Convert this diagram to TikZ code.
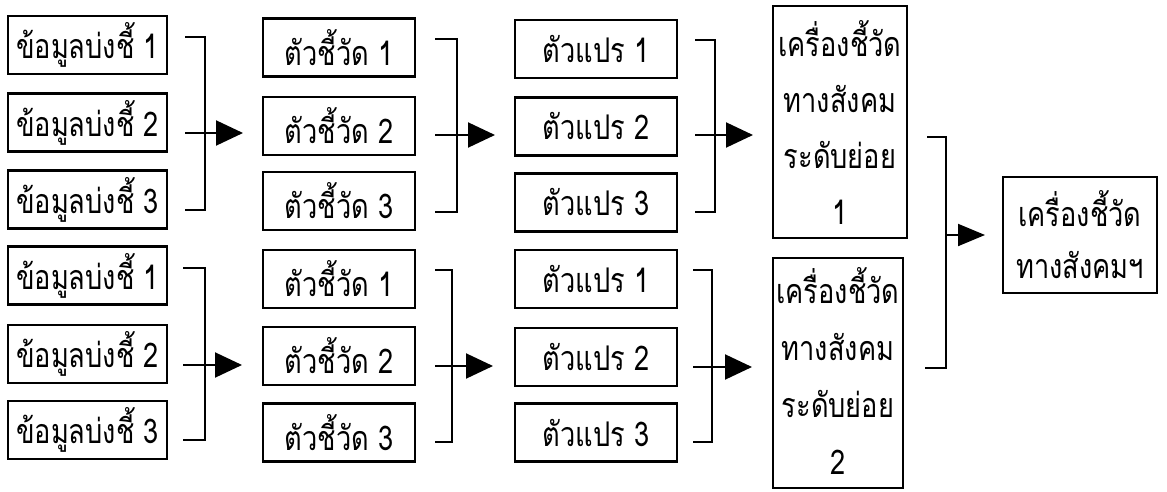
\documentclass[tikz,border=0pt]{standalone}
\usepackage{fontspec}
\usetikzlibrary{arrows.meta}
\newfontfamily\thai[Script=Thai,FakeStretch=0.8]{Loma}
\begin{document}
\begin{tikzpicture}[x=1pt,y=-1pt,
  box/.style={draw,line width=2.4pt,inner sep=0pt,anchor=center,
    font=\thai\fontsize{34}{34}\selectfont},
  tall/.style={box,align=center,font=\thai\fontsize{34}{56}\selectfont},
  brk/.style={line width=2pt},
  arr/.style={line width=2pt,-{Triangle[length=27pt,width=25pt]}}]
\useasboundingbox (0,0) rectangle (1167,492);
% column 1
\node[box,minimum width=159pt,minimum height=58pt] (a1) at (87.5,45) {ข้อมูลบ่งชี้ 1};
\node[box,minimum width=159pt,minimum height=58pt] (a2) at (87.5,122.5) {ข้อมูลบ่งชี้ 2};
\node[box,minimum width=159pt,minimum height=58pt] (a3) at (87.5,199.5) {ข้อมูลบ่งชี้ 3};
\node[box,minimum width=159pt,minimum height=58pt] (d1) at (87.5,275.5) {ข้อมูลบ่งชี้ 1};
\node[box,minimum width=159pt,minimum height=58pt] (d2) at (87.5,354) {ข้อมูลบ่งชี้ 2};
\node[box,minimum width=159pt,minimum height=58pt] (d3) at (87.5,430) {ข้อมูลบ่งชี้ 3};
% column 2
\node[box,minimum width=152pt,minimum height=58pt] (b1) at (339,47.5) {ตัวชี้วัด 1};
\node[box,minimum width=152pt,minimum height=58pt] (b2) at (339,126) {ตัวชี้วัด 2};
\node[box,minimum width=152pt,minimum height=58pt] (b3) at (339,201) {ตัวชี้วัด 3};
\node[box,minimum width=152pt,minimum height=58pt] (e1) at (339,279) {ตัวชี้วัด 1};
\node[box,minimum width=152pt,minimum height=58pt] (e2) at (339,356) {ตัวชี้วัด 2};
\node[box,minimum width=152pt,minimum height=58pt] (e3) at (339,432.5) {ตัวชี้วัด 3};
% column 3
\node[box,minimum width=162pt,minimum height=58pt] (c1) at (596,49) {ตัวแปร 1};
\node[box,minimum width=162pt,minimum height=58pt] (c2) at (596,126.5) {ตัวแปร 2};
\node[box,minimum width=162pt,minimum height=58pt] (c3) at (596,202.5) {ตัวแปร 3};
\node[box,minimum width=162pt,minimum height=58pt] (f1) at (596,279) {ตัวแปร 1};
\node[box,minimum width=162pt,minimum height=58pt] (f2) at (596,357) {ตัวแปร 2};
\node[box,minimum width=162pt,minimum height=58pt] (f3) at (596,432.5) {ตัวแปร 3};
% column 4
\node[tall,minimum width=134pt,minimum height=232pt] (g1) at (840,122) {เครื่องชี้วัด\\ทางสังคม\\ระดับย่อย\\1};
\node[box,minimum width=130pt,minimum height=230pt] (g2) at (838,373) {};
\node[tall,draw=none,font=\thai\fontsize{34}{57}\selectfont] (g2t) at ([yshift=2pt]g2.center) {เครื่องชี้วัด\\ทางสังคม\\ระดับย่อย\\2};
% final
\node[tall,font=\thai\fontsize{34}{52}\selectfont,minimum width=154pt,minimum height=116pt] (h) at (1080,235) {เครื่องชี้วัด\\ทางสังคมฯ};
% bracket coordinates
\coordinate (p1t) at (205,37); \coordinate (p1b) at (205,210); \coordinate (p1m) at (205,133);
\coordinate (q1t) at (205,268); \coordinate (q1b) at (205,440); \coordinate (q1m) at (205,365);
\coordinate (p2t) at (457,39); \coordinate (p2b) at (457,212); \coordinate (p2m) at (457,135);
\coordinate (q2t) at (452,270); \coordinate (q2b) at (452,442); \coordinate (q2m) at (452,366);
\coordinate (p3t) at (715,40); \coordinate (p3b) at (715,212); \coordinate (p3m) at (715,135);
\coordinate (q3t) at (712,270); \coordinate (q3b) at (712,442); \coordinate (q3m) at (712,367);
\coordinate (p4t) at (946,137); \coordinate (p4b) at (946,368); \coordinate (p4m) at (946,235);
% brackets
\draw[brk] (185,37) -- (p1t) -- (p1b) -- (185,210);
\draw[arr] (185,133) -- (243,133);
\draw[brk] (183,268) -- (q1t) -- (q1b) -- (183,440);
\draw[arr] (183,365) -- (242,365);
\draw[brk] (435,39) -- (p2t) -- (p2b) -- (435,212);
\draw[arr] (435,135) -- (495,135);
\draw[brk] (435,270) -- (q2t) -- (q2b) -- (435,442);
\draw[arr] (435,366) -- (493,366);
\draw[brk] (695,40) -- (p3t) -- (p3b) -- (695,212);
\draw[arr] (695,135) -- (753,135);
\draw[brk] (693,270) -- (q3t) -- (q3b) -- (693,442);
\draw[arr] (693,367) -- (752,367);
\draw[brk] (927,137) -- (p4t) -- (p4b) -- (925,368);
\draw[line width=2pt,-{Triangle[length=27pt,width=22pt]}] (p4m) -- (985,235);
\end{tikzpicture}
\end{document}
